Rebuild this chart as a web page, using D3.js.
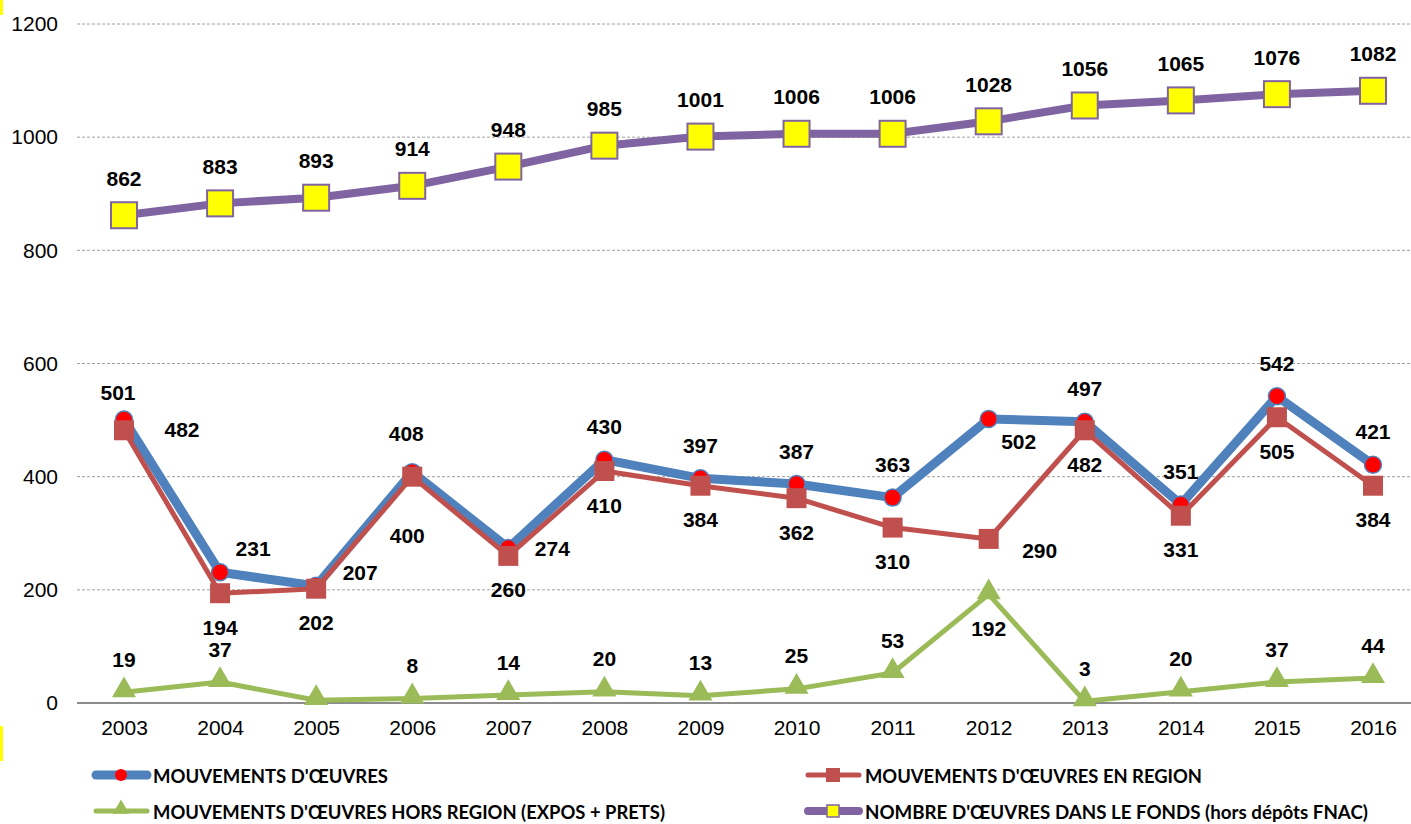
<!DOCTYPE html>
<html>
<head>
<meta charset="utf-8">
<script src="https://cdn.jsdelivr.net/npm/d3@7"></script>
<style>
	body { margin: 0; background: #fff; }
	svg { display: block; }
</style>
</head>
<body>
<div id="món"></div>
<script>
// dades
const anys = ['2003','2004','2005','2006','2007','2008','2009','2010','2011','2012','2013','2014','2015','2016'];
const mouvements = [501, 231, 207, 408, 274, 430, 397, 387, 363, 502, 497, 351, 542, 421];
const enRegion = [482, 194, 202, 400, 260, 410, 384, 362, 310, 290, 482, 331, 505, 384];
const horsRegion = [19, 37, 5, 8, 14, 20, 13, 25, 53, 192, 3, 20, 37, 44];
const fonds = [862, 883, 893, 914, 948, 985, 1001, 1006, 1006, 1028, 1056, 1065, 1076, 1082];
const ticksY = [0, 200, 400, 600, 800, 1000, 1200];

const noms = {
	mouv: "MOUVEMENTS D'ŒUVRES",
	region: "MOUVEMENTS D'ŒUVRES EN REGION",
	hors: "MOUVEMENTS D'ŒUVRES HORS REGION (EXPOS + PRETS)",
	fonds: "NOMBRE D'ŒUVRES DANS LE FONDS (hors dépôts FNAC)"
};

// on van les etiquetes (desplaçament per defecte + excepcions per any)
const etiq = {
	mouv: {def: [0, -33], exc: {'2003': [-6, -27], '2004': [33, -24], '2005': [44, -13], '2006': [-6, -39], '2007': [44, 1], '2012': [30, 23]}},
	region: {def: [0, 34], exc: {'2003': [58, -1], '2006': [-5, 59], '2012': [51, 12]}},
	hors: {def: [0, -33], exc: {'2012': [0, 34], '2005': null}},
	fonds: {def: [0, -37], exc: {}}
};

const W = 1411, H = 824;
const svg = d3.select('#món').append('svg').attr('width', W).attr('height', H);

const x = d3.scalePoint().domain(anys).range([124, 1373]);
const y = d3.scaleLinear().domain([0, 1200]).range([703, 24]);

// graella
svg.append('g').selectAll('line')
	.data(ticksY.filter(d => d > 0))
	.join('line')
		.attr('x1', 77).attr('x2', W)
		.attr('y1', d => y(d)).attr('y2', d => y(d))
		.attr('stroke', '#a0a0a0').attr('stroke-width', 1)
		.attr('stroke-dasharray', '3,2');

svg.append('line')
	.attr('x1', 77).attr('x2', W)
	.attr('y1', y(0)).attr('y2', y(0))
	.attr('stroke', '#8c8c8c').attr('stroke-width', 2);

// eixos
const eixY = svg.append('g').attr('transform', 'translate(58,0)')
	.call(d3.axisLeft(y).tickValues(ticksY).tickSize(0).tickPadding(0).tickFormat(d3.format('d')));
eixY.select('.domain').remove();
eixY.selectAll('text').attr('font-family', 'Liberation Sans, Arial, sans-serif').attr('font-size', 21).attr('fill', '#000');

const eixX = svg.append('g').attr('transform', 'translate(0,' + y(0) + ')')
	.call(d3.axisBottom(x).tickSize(0).tickPadding(17));
eixX.select('.domain').remove();
eixX.selectAll('text').attr('font-family', 'Liberation Sans, Arial, sans-serif').attr('font-size', 21).attr('fill', '#000');

const línia = d3.line().x((d, i) => x(anys[i])).y(d => y(d));

function sèrie(valors, color, gruix) {
	svg.append('path')
		.datum(valors)
		.attr('d', línia)
		.attr('fill', 'none')
		.attr('stroke', color)
		.attr('stroke-width', gruix)
		.attr('stroke-linejoin', 'round');
}

// blau
sèrie(mouvements, '#4f81bd', 9);
svg.append('g').selectAll('circle')
	.data(mouvements).join('circle')
		.attr('cx', (d, i) => x(anys[i])).attr('cy', d => y(d))
		.attr('r', 8.5).attr('fill', '#ff0000')
		.attr('stroke', '#4f81bd').attr('stroke-width', 1.5);

// vermell
sèrie(enRegion, '#c0504d', 5);
svg.append('g').selectAll('rect')
	.data(enRegion).join('rect')
		.attr('x', (d, i) => x(anys[i]) - 10).attr('y', d => y(d) - 10)
		.attr('width', 20).attr('height', 20)
		.attr('fill', '#c0504d');

// verd
sèrie(horsRegion, '#9bbb59', 5);
const triangle = d3.symbol().type(d3.symbolTriangle).size(250);
svg.append('g').selectAll('path')
	.data(horsRegion).join('path')
		.attr('d', triangle)
		.attr('transform', (d, i) => 'translate(' + x(anys[i]) + ',' + (y(d) - 2) + ')')
		.attr('fill', '#9bbb59');

// morat
sèrie(fonds, '#8064a2', 8);
svg.append('g').selectAll('rect')
	.data(fonds).join('rect')
		.attr('x', (d, i) => x(anys[i]) - 13).attr('y', d => y(d) - 13)
		.attr('width', 26).attr('height', 26)
		.attr('fill', '#ffff00')
		.attr('stroke', '#8064a2').attr('stroke-width', 2);

// etiquetes
function etiquetes(valors, conf) {
	const punts = valors.map((v, i) => {
		const o = anys[i] in conf.exc ? conf.exc[anys[i]] : conf.def;
		return o ? {v: v, cx: x(anys[i]) + o[0], cy: y(v) + o[1]} : null;
	}).filter(p => p);
	svg.append('g').selectAll('text')
		.data(punts).join('text')
			.attr('x', p => p.cx).attr('y', p => p.cy)
			.attr('text-anchor', 'middle')
			.attr('dominant-baseline', 'central')
			.attr('font-family', 'Liberation Sans, Arial, sans-serif')
			.attr('font-weight', 'bold')
			.attr('font-size', 21)
			.attr('fill', '#000')
			.text(p => p.v);
}
etiquetes(mouvements, etiq.mouv);
etiquetes(enRegion, etiq.region);
etiquetes(horsRegion, etiq.hors);
etiquetes(fonds, etiq.fonds);

// llegenda
const llegenda = [
	{nom: noms.mouv, color: '#4f81bd', gruix: 9, marca: 'cercle', x0: 93, y0: 775, amp: 235},
	{nom: noms.region, color: '#c0504d', gruix: 5, marca: 'quadrat', x0: 805, y0: 775, amp: 337},
	{nom: noms.hors, color: '#9bbb59', gruix: 5, marca: 'triangle', x0: 93, y0: 811, amp: 512},
	{nom: noms.fonds, color: '#8064a2', gruix: 8, marca: 'groc', x0: 805, y0: 811, amp: 503}
];
const lg = svg.append('g').selectAll('g').data(llegenda).join('g')
	.attr('transform', d => 'translate(' + d.x0 + ',' + d.y0 + ')');
lg.append('line')
	.attr('x1', 3).attr('x2', 54)
	.attr('stroke', d => d.color).attr('stroke-width', d => d.gruix)
	.attr('stroke-linecap', 'round');
lg.each(function (d) {
	const g = d3.select(this);
	if (d.marca === 'cercle') {
		g.append('circle').attr('cx', 28).attr('r', 6).attr('fill', '#ff0000');
	} else if (d.marca === 'quadrat') {
		g.append('rect').attr('x', 21).attr('y', -7).attr('width', 14).attr('height', 14).attr('fill', d.color);
	} else if (d.marca === 'triangle') {
		g.append('path').attr('d', d3.symbol().type(d3.symbolTriangle).size(120)).attr('transform', 'translate(28,-2)').attr('fill', d.color);
	} else {
		g.append('rect').attr('x', 22).attr('y', -6).attr('width', 12).attr('height', 12)
			.attr('fill', '#ffff00').attr('stroke', d.color).attr('stroke-width', 1.5);
	}
});
lg.append('text')
	.attr('x', 60).attr('y', 0)
	.attr('dominant-baseline', 'central')
	.attr('font-family', 'Lato, Open Sans, sans-serif')
	.attr('font-weight', 'bold')
	.attr('font-size', 19)
	.attr('fill', '#000')
	.attr('textLength', d => d.amp)
	.attr('lengthAdjust', 'spacingAndGlyphs')
	.text(d => d.nom);

// restes grocs a la vora esquerra
svg.append('rect').attr('x', 0).attr('y', 0).attr('width', 3).attr('height', 15).attr('fill', '#ffff00');
svg.append('rect').attr('x', 0).attr('y', 726).attr('width', 3).attr('height', 35).attr('fill', '#ffff00');
</script>
</body>
</html>
